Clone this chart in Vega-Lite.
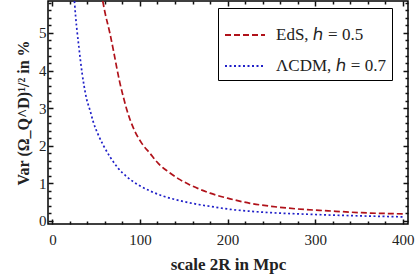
{
  "$schema": "https://vega.github.io/schema/vega-lite/v6.json",
  "width": 360,
  "height": 223,
  "autosize": {"type": "none"},
  "padding": {"left": 48, "top": 1, "right": 8, "bottom": 53},
  "config": {
    "view": {"stroke": "black", "strokeWidth": 1.5},
    "font": "Liberation Serif",
    "axis": {"labelFont": "Liberation Serif", "titleFont": "Liberation Serif", "labelColor": "#222", "titleColor": "#222", "grid": false, "tickColor": "#111", "tickWidth": 1.5}
  },
  "data": {"values": [
    {"x": 57.5, "y": 5.85, "model": "EdS, ℎ = 0.5"},
    {"x": 60, "y": 5.55, "model": "EdS, ℎ = 0.5"},
    {"x": 65.7, "y": 4.99, "model": "EdS, ℎ = 0.5"},
    {"x": 70, "y": 4.5, "model": "EdS, ℎ = 0.5"},
    {"x": 73.3, "y": 4.1, "model": "EdS, ℎ = 0.5"},
    {"x": 77, "y": 3.68, "model": "EdS, ℎ = 0.5"},
    {"x": 80.9, "y": 3.31, "model": "EdS, ℎ = 0.5"},
    {"x": 84.8, "y": 2.97, "model": "EdS, ℎ = 0.5"},
    {"x": 88.6, "y": 2.7, "model": "EdS, ℎ = 0.5"},
    {"x": 94.3, "y": 2.38, "model": "EdS, ℎ = 0.5"},
    {"x": 101.9, "y": 2.07, "model": "EdS, ℎ = 0.5"},
    {"x": 111.4, "y": 1.8, "model": "EdS, ℎ = 0.5"},
    {"x": 120.9, "y": 1.53, "model": "EdS, ℎ = 0.5"},
    {"x": 132.3, "y": 1.31, "model": "EdS, ℎ = 0.5"},
    {"x": 145.7, "y": 1.1, "model": "EdS, ℎ = 0.5"},
    {"x": 157, "y": 0.96, "model": "EdS, ℎ = 0.5"},
    {"x": 166.6, "y": 0.86, "model": "EdS, ℎ = 0.5"},
    {"x": 180, "y": 0.74, "model": "EdS, ℎ = 0.5"},
    {"x": 202.9, "y": 0.59, "model": "EdS, ℎ = 0.5"},
    {"x": 225.7, "y": 0.47, "model": "EdS, ℎ = 0.5"},
    {"x": 250, "y": 0.39, "model": "EdS, ℎ = 0.5"},
    {"x": 280, "y": 0.32, "model": "EdS, ℎ = 0.5"},
    {"x": 315, "y": 0.27, "model": "EdS, ℎ = 0.5"},
    {"x": 353, "y": 0.22, "model": "EdS, ℎ = 0.5"},
    {"x": 400, "y": 0.19, "model": "EdS, ℎ = 0.5"},
    {"x": 25.2, "y": 5.85, "model": "ΛCDM, ℎ = 0.7"},
    {"x": 26.5, "y": 5.45, "model": "ΛCDM, ℎ = 0.7"},
    {"x": 28.4, "y": 5.0, "model": "ΛCDM, ℎ = 0.7"},
    {"x": 30.3, "y": 4.62, "model": "ΛCDM, ℎ = 0.7"},
    {"x": 32, "y": 4.28, "model": "ΛCDM, ℎ = 0.7"},
    {"x": 34, "y": 3.92, "model": "ΛCDM, ℎ = 0.7"},
    {"x": 36, "y": 3.62, "model": "ΛCDM, ℎ = 0.7"},
    {"x": 39, "y": 3.25, "model": "ΛCDM, ℎ = 0.7"},
    {"x": 42.9, "y": 2.95, "model": "ΛCDM, ℎ = 0.7"},
    {"x": 46.6, "y": 2.64, "model": "ΛCDM, ℎ = 0.7"},
    {"x": 52.4, "y": 2.29, "model": "ΛCDM, ℎ = 0.7"},
    {"x": 58, "y": 2.02, "model": "ΛCDM, ℎ = 0.7"},
    {"x": 65.7, "y": 1.71, "model": "ΛCDM, ℎ = 0.7"},
    {"x": 75.2, "y": 1.4, "model": "ΛCDM, ℎ = 0.7"},
    {"x": 84.8, "y": 1.18, "model": "ΛCDM, ℎ = 0.7"},
    {"x": 98, "y": 0.96, "model": "ΛCDM, ℎ = 0.7"},
    {"x": 111.4, "y": 0.8, "model": "ΛCDM, ℎ = 0.7"},
    {"x": 126.6, "y": 0.66, "model": "ΛCDM, ℎ = 0.7"},
    {"x": 145.7, "y": 0.54, "model": "ΛCDM, ℎ = 0.7"},
    {"x": 166.6, "y": 0.44, "model": "ΛCDM, ℎ = 0.7"},
    {"x": 180, "y": 0.39, "model": "ΛCDM, ℎ = 0.7"},
    {"x": 202.9, "y": 0.31, "model": "ΛCDM, ℎ = 0.7"},
    {"x": 225.7, "y": 0.26, "model": "ΛCDM, ℎ = 0.7"},
    {"x": 250, "y": 0.22, "model": "ΛCDM, ℎ = 0.7"},
    {"x": 280, "y": 0.19, "model": "ΛCDM, ℎ = 0.7"},
    {"x": 315, "y": 0.16, "model": "ΛCDM, ℎ = 0.7"},
    {"x": 353, "y": 0.135, "model": "ΛCDM, ℎ = 0.7"},
    {"x": 400, "y": 0.11, "model": "ΛCDM, ℎ = 0.7"}
  ]},
  "layer": [
    {
      "mark": {"type": "line", "clip": true, "strokeWidth": 1.7, "interpolate": "monotone"},
      "encoding": {
        "x": {"field": "x", "type": "quantitative", "scale": {"domain": [-5, 406], "nice": false, "zero": false},
          "axis": {"orient": "bottom", "values": [0, 100, 200, 300, 400], "ticks": false, "domain": false, "labelFontSize": 15, "labelPadding": 8, "title": "scale 2R in Mpc", "titleFontSize": 17, "titleFontWeight": "bold", "titlePadding": 9}},
        "y": {"field": "y", "type": "quantitative", "scale": {"domain": [-0.08, 5.85], "nice": false, "zero": false},
          "axis": {"orient": "left", "values": [0, 1, 2, 3, 4, 5], "ticks": false, "domain": false, "labelFontSize": 15, "labelPadding": 2, "title": "Var (Ω_Q^D)¹/² in %", "titleFontSize": 16, "titleFontWeight": "bold", "titlePadding": 7}},
        "color": {"field": "model", "type": "nominal", "sort": null,
          "scale": {"domain": ["EdS, ℎ = 0.5", "ΛCDM, ℎ = 0.7"], "range": ["#b0121a", "#2020c8"]},
          "legend": {"title": null, "orient": "none", "legendX": 170, "legendY": 7, "strokeColor": "black", "fillColor": "white", "padding": 6, "symbolType": "stroke", "symbolSize": 1600, "symbolStrokeWidth": 2, "labelFont": "Liberation Serif", "labelFontSize": 17, "labelColor": "#222", "labelOffset": 10, "rowPadding": 2}},
        "strokeDash": {"field": "model", "type": "nominal", "sort": null,
          "scale": {"domain": ["EdS, ℎ = 0.5", "ΛCDM, ℎ = 0.7"], "range": [[6, 3], [2, 2.5]]},
          "legend": {"title": null, "orient": "none", "legendX": 170, "legendY": 7, "strokeColor": "black", "fillColor": "white", "padding": 6, "symbolType": "stroke", "symbolSize": 1600, "symbolStrokeWidth": 2, "labelFont": "Liberation Serif", "labelFontSize": 17, "labelColor": "#222", "labelOffset": 10, "rowPadding": 2}}
      }
    },
    {
      "mark": {"type": "point", "opacity": 0},
      "encoding": {
        "x": {"field": "x", "type": "quantitative",
          "axis": {"orient": "bottom", "tickSize": -5, "values": [0, 100, 200, 300, 400], "labels": false, "domain": false, "title": null}},
        "y": {"field": "y", "type": "quantitative",
          "axis": {"orient": "left", "tickSize": -5, "values": [0, 1, 2, 3, 4, 5], "labels": false, "domain": false, "title": null}}
      }
    },
    {
      "mark": {"type": "point", "opacity": 0},
      "encoding": {
        "x": {"field": "x", "type": "quantitative",
          "axis": {"orient": "bottom", "tickSize": -3, "values": [20, 40, 60, 80, 120, 140, 160, 180, 220, 240, 260, 280, 320, 340, 360, 380], "labels": false, "domain": false, "title": null}},
        "y": {"field": "y", "type": "quantitative",
          "axis": {"orient": "left", "tickSize": -3, "values": [0.2, 0.4, 0.6, 0.8, 1.2, 1.4, 1.6, 1.8, 2.2, 2.4, 2.6, 2.8, 3.2, 3.4, 3.6, 3.8, 4.2, 4.4, 4.6, 4.8, 5.2, 5.4, 5.6, 5.8], "labels": false, "domain": false, "title": null}}
      }
    },
    {
      "mark": {"type": "point", "opacity": 0},
      "encoding": {
        "x": {"field": "x", "type": "quantitative",
          "axis": {"orient": "top", "tickSize": -5, "values": [0, 100, 200, 300, 400], "labels": false, "domain": false, "title": null}},
        "y": {"field": "y", "type": "quantitative",
          "axis": {"orient": "right", "tickSize": -5, "values": [0, 1, 2, 3, 4, 5], "labels": false, "domain": false, "title": null}}
      }
    },
    {
      "mark": {"type": "point", "opacity": 0},
      "encoding": {
        "x": {"field": "x", "type": "quantitative",
          "axis": {"orient": "top", "tickSize": -3, "values": [20, 40, 60, 80, 120, 140, 160, 180, 220, 240, 260, 280, 320, 340, 360, 380], "labels": false, "domain": false, "title": null}},
        "y": {"field": "y", "type": "quantitative",
          "axis": {"orient": "right", "tickSize": -3, "values": [0.2, 0.4, 0.6, 0.8, 1.2, 1.4, 1.6, 1.8, 2.2, 2.4, 2.6, 2.8, 3.2, 3.4, 3.6, 3.8, 4.2, 4.4, 4.6, 4.8, 5.2, 5.4, 5.6, 5.8], "labels": false, "domain": false, "title": null}}
      }
    }
  ],
  "resolve": {"axis": {"x": "independent", "y": "independent"}}
}
